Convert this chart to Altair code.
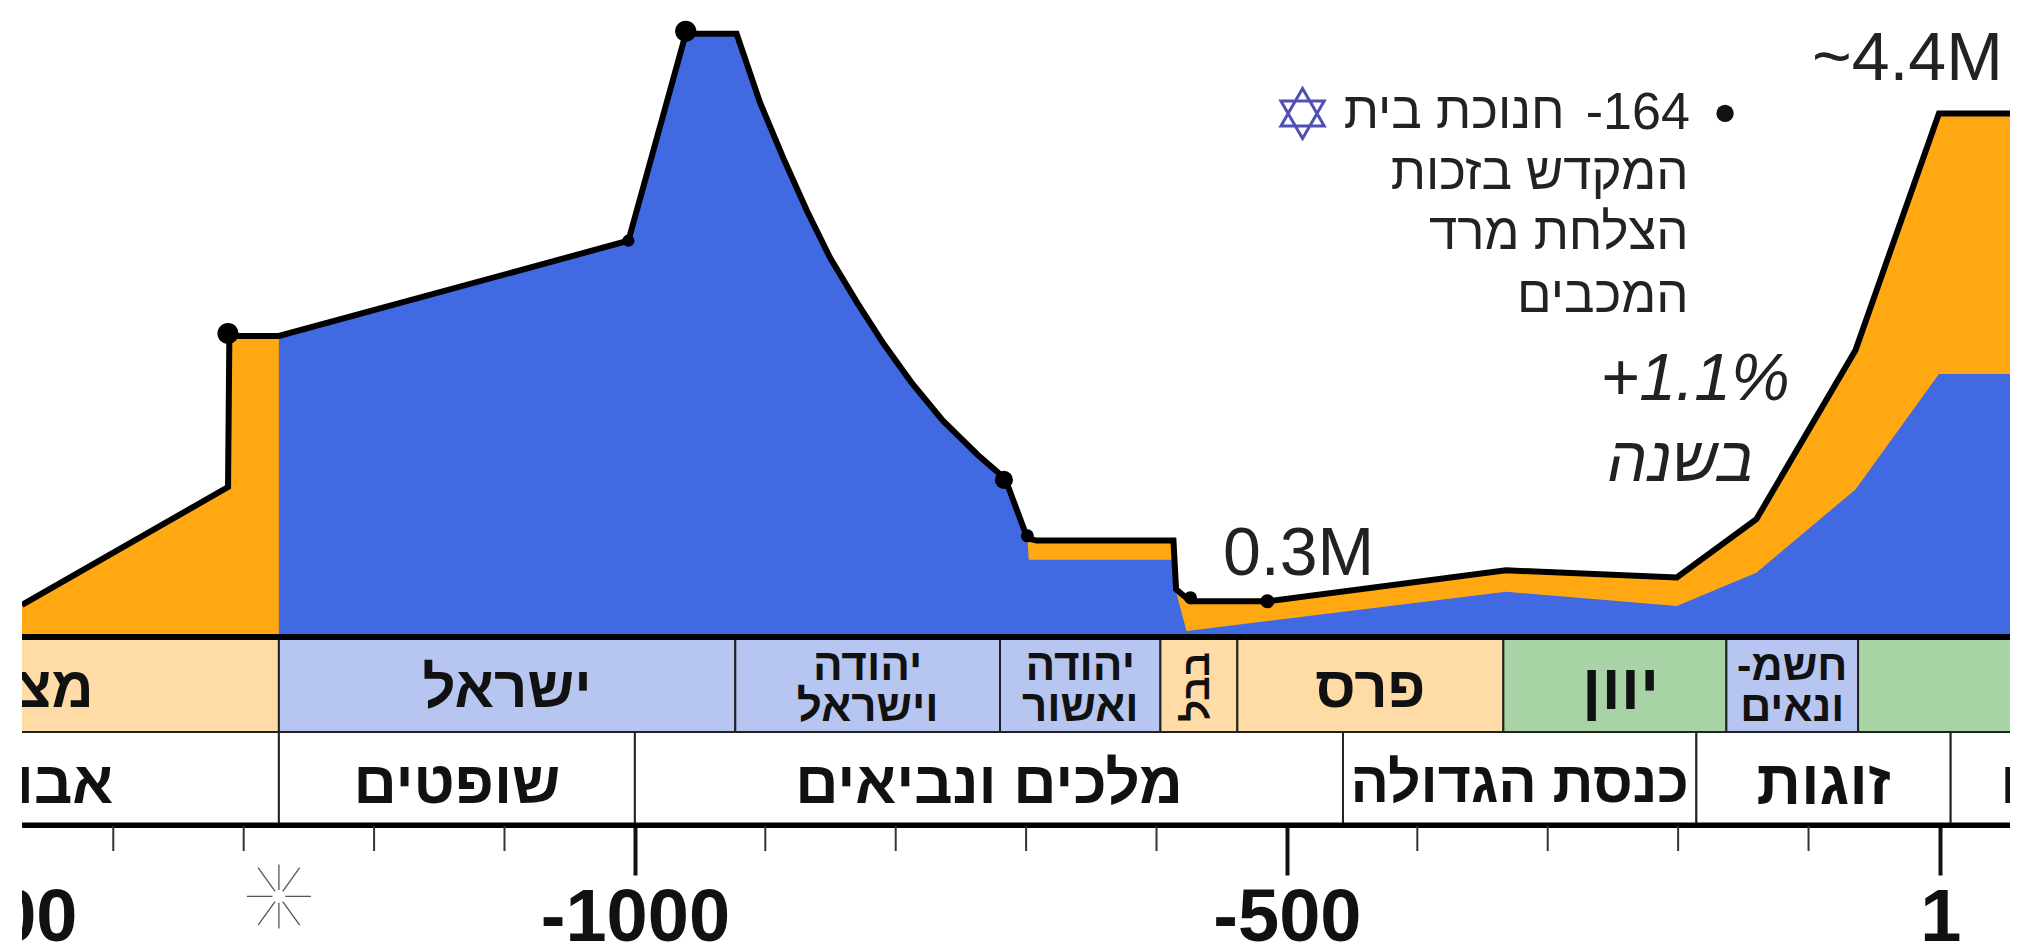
import altair as alt
import pandas as pd

FONT = "Liberation Sans"
ORANGE, BLUE = "#FFA812", "#4169E1"
LO, LB, LG = "#FFDCA6", "#B7C6F0", "#A8D3A5"

# population outline (year, millions)
out_year = [-1470,-1312,-1311,-1273,-1005,-961,-922,-904,-886,-868,-850,-829,-809,-788,-764,-737,-716,-699,-692,-587,-585,-574,-515,-332,-201,-140,-64,0,61]
out_pop  = [0.27,1.26,2.53,2.53,3.33,5.07,5.07,4.49,4.02,3.58,3.18,2.80,2.46,2.14,1.82,1.53,1.33,0.83,0.81,0.81,0.40,0.30,0.30,0.56,0.50,0.99,2.41,4.40,4.40]
# blue (inside the land) part
blue_year = [-1273,-1005,-961,-922,-904,-886,-868,-850,-829,-809,-788,-764,-737,-716,-699,-698,-587,-585,-577,-332,-201,-140,-64,0,61]
blue_pop  = [2.53,3.33,5.07,5.07,4.49,4.02,3.58,3.18,2.80,2.46,2.14,1.82,1.53,1.33,0.83,0.65,0.65,0.38,0.05,0.38,0.26,0.54,1.24,2.21,2.21]
# dots on the outline
dot_year = [-1312,-1005,-961,-717,-699,-574,-515]
dot_pop  = [2.55,3.33,5.09,1.32,0.85,0.33,0.30]
dot_size = [450,150,450,330,170,170,200]

# rows under the chart
r1_start = [-1500,-1273,-923,-720,-597,-538,-334,-163,-62]
r1_end   = [-1273,-923,-720,-597,-538,-334,-163,-62,100]
r1_fill  = [LO,LB,LB,LB,LO,LO,LG,LB,LG]
r1_label = ["", "ישראל", "", "", "", "פרס", "יוון", "", ""]
r1_mid   = [0, -1098, -821.5, -658.5, 0, -436, -244, -112.5, 0]
r1_size  = [58,58,44,44,38,58,64,43,38]
r1_two   = ["", "", "יהודה\nוישראל", "יהודה\nואשור", "", "", "", "\u200fחשמ-\u200f\nונאים", ""]
r2_start = [-1500,-1273,-1000,-457,-186,9]
r2_end   = [-1273,-1000,-457,-186,9,100]
r2_label = ["", "שופטים", "מלכים ונביאים", "כנסת הגדולה", "זוגות", ""]
r2_size  = [60,60,60,57,62,60]

major_ticks = [-1000,-500,1]
minor_ticks = [-1400,-1300,-1200,-1100,-900,-800,-700,-600,-400,-300,-200,-100]

# annotations (text, year, millions, size, align, style)
notes = [
    ("~4.4M", 49, 4.85, 68, "right", "normal"),
    ("0.3M", -491, 0.69, 68, "center", "normal"),
    ("+1.1%", -187, 2.16, 66, "center", "italic"),
    ("בשנה", -198, 1.47, 63, "center", "italic"),
    ("-164", -191, 4.40, 52, "right", "normal"),
    ("חנוכת בית", -287, 4.40, 51, "right", "normal"),
    ("המקדש בזכות", -192, 3.89, 51, "right", "normal"),
    ("הצלחת מרד", -192, 3.39, 51, "right", "normal"),
    ("המכבים", -192, 2.86, 51, "right", "normal"),
]

W, H = 1988, 817
BOTTOM = 122
X = alt.X("x:Q", title=None, scale=alt.Scale(domain=[-1470, 54.5], nice=False, zero=False),
          axis=alt.Axis(values=major_ticks, title=None, grid=False, tickSize=50, tickWidth=4,
                        tickColor="#111", domainColor="#000", domainWidth=5,
                        labelFont=FONT, labelFontSize=74, labelFontWeight="bold", labelColor="#111",
                        labelPadding=7, labelLimit=500, labelOverlap=False, labelFlush=False, labelBound=False,
                        labelExpr="toString(datum.value)"))
Y = alt.Y("y:Q", scale=alt.Scale(domain=[-1.58, 5.286], nice=False, zero=False), axis=None)
NX = alt.X("x:Q", title=None)
MX = alt.X("m:Q", title=None)
NY = alt.Y("y:Q", axis=None)
SZ = alt.Size("s:Q", scale=None, legend=None)

def py(full):            # page row -> plot pixel
    return full - 8

out_df = pd.DataFrame({"x": out_year, "y": out_pop})
blue_df = pd.DataFrame({"x": blue_year, "y": blue_pop})
dot_df = pd.DataFrame({"x": dot_year, "y": dot_pop, "s": dot_size})

orange_area = alt.Chart(out_df).mark_area(color=ORANGE).encode(x=X, y=Y, y2=alt.datum(0))
blue_area = alt.Chart(blue_df).mark_area(color=BLUE).encode(x=NX, y=NY, y2=alt.datum(0))
outline = alt.Chart(out_df).mark_line(color="#000", strokeWidth=6).encode(x=NX, y=NY)
dots = alt.Chart(dot_df).mark_point(filled=True, color="#000", opacity=1).encode(x=NX, y=NY, size=SZ)

# row 1
r1 = pd.DataFrame({"x": r1_start, "x2": r1_end, "fill": r1_fill, "t": r1_label, "t2": r1_two, "s": r1_size, "m": r1_mid})
row1 = alt.Chart(r1).mark_rect(stroke="#222", strokeWidth=2).encode(
    x=NX, x2="x2:Q", y=alt.value(py(638)), y2=alt.value(py(732)),
    fill=alt.Fill("fill:N", scale=None))
row1_text = alt.Chart(r1[r1.t != ""]).mark_text(font=FONT, fontWeight="bold", color="#111", baseline="middle",
                                                align="center").encode(
    x=MX, y=alt.value(py(690)), text="t:N", size=SZ)
row1_two = alt.Chart(r1[r1.t2 != ""]).mark_text(font=FONT, fontWeight="bold", color="#111", baseline="middle",
                                                align="center", lineBreak="\n", lineHeight=41).encode(
    x=MX, y=alt.value(py(667)), text="t2:N", size=SZ)
mitz = alt.Chart(pd.DataFrame({"x": [-1415], "t": ["מצרים"]})).mark_text(
    font=FONT, fontWeight="bold", fontSize=58, color="#111", align="right", baseline="middle").encode(
    x=NX, y=alt.value(py(690)), text="t:N")
bavel = alt.Chart(pd.DataFrame({"x": [-568], "t": ["בבל"]})).mark_text(
    font=FONT, fontWeight="bold", fontSize=38, color="#111", align="center", baseline="middle", angle=270).encode(
    x=NX, y=alt.value(py(687)), text="t:N")

# row 2
r2 = pd.DataFrame({"x": r2_start, "x2": r2_end, "t": r2_label, "s": r2_size})
r2["m"] = (r2.x + r2.x2) / 2
row2 = alt.Chart(r2).mark_rect(fill="#fff", stroke="#222", strokeWidth=2).encode(
    x=NX, x2="x2:Q", y=alt.value(py(732)), y2=alt.value(py(825)))
row2_text = alt.Chart(r2[r2.t != ""]).mark_text(font=FONT, fontWeight="bold", color="#111",
                                                baseline="middle", align="center").encode(
    x=MX, y=alt.value(py(785)), text="t:N", size=SZ)
avot = alt.Chart(pd.DataFrame({"x": [-1400], "t": ["אבות"]})).mark_text(
    font=FONT, fontWeight="bold", fontSize=60, color="#111", align="right", baseline="middle").encode(
    x=NX, y=alt.value(py(785)), text="t:N")
tanaim = alt.Chart(pd.DataFrame({"x": [47], "t": ["תנאים"]})).mark_text(
    font=FONT, fontWeight="bold", fontSize=60, color="#111", align="left", baseline="middle").encode(
    x=NX, y=alt.value(py(785)), text="t:N")

# heavy rules
heavy = pd.DataFrame({"x": [-1500], "x2": [100]})
rule_top = alt.Chart(heavy).mark_rule(color="#000", strokeWidth=6).encode(x=NX, x2="x2:Q", y=alt.value(py(637)))
rule_bot = alt.Chart(heavy).mark_rule(color="#000", strokeWidth=5).encode(x=NX, x2="x2:Q", y=alt.value(py(825)))
ticks = alt.Chart(pd.DataFrame({"x": minor_ticks})).mark_rule(color="#333", strokeWidth=2).encode(
    x=NX, y=alt.value(py(826)), y2=alt.value(py(851)))
# the -1500 label lies off the left edge and only its tail shows
label_1500 = alt.Chart(pd.DataFrame({"x": [-1500], "t": ["-1500"]})).mark_text(
    font=FONT, fontWeight="bold", fontSize=74, color="#111", align="center", baseline="middle").encode(
    x=NX, y=alt.value(py(919)), text="t:N")

# annotations
ndf = pd.DataFrame(notes, columns=["t", "x", "y", "s", "a", "st"])
def note_layer(frame, **kw):
    return alt.Chart(frame).mark_text(font=FONT, color="#222", baseline="middle", **kw).encode(
        x=NX, y=NY, text="t:N", size=SZ)
note_layers = [
    note_layer(ndf[(ndf.st == "normal") & (ndf.a == "right")], align="right"),
    note_layer(ndf[(ndf.st == "normal") & (ndf.a == "center")], align="center"),
    note_layer(ndf[ndf.st == "italic"], align="center", fontStyle="italic"),
]
bullet = alt.Chart(pd.DataFrame({"x": [-164], "y": [4.40]})).mark_point(filled=True, color="#111", size=300, opacity=1).encode(x=NX, y=NY)
HEX = "M0,-1L0.866,0.5L-0.866,0.5Z M0,1L0.866,-0.5L-0.866,-0.5Z"
star = alt.Chart(pd.DataFrame({"x": [-488], "y": [4.40]})).mark_point(
    shape=HEX, filled=False, stroke="#5050B4", strokeWidth=3, size=2500, opacity=1).encode(x=NX, y=NY)
AST = ("M0,-1L0,-0.2M0,1L0,0.2M-1,0L-0.2,0M1,0L0.2,0"
       "M-0.65,-0.9L-0.12,-0.16M0.65,-0.9L0.12,-0.16M-0.65,0.9L-0.12,0.16M0.65,0.9L0.12,0.16")
asterisk = alt.Chart(pd.DataFrame({"x": [-1273], "y": [-2.18]})).mark_point(
    shape=AST, filled=False, stroke="#555", strokeWidth=1.3, size=4096, opacity=1).encode(x=NX, y=NY)

# white margin left of the picture
mask = alt.Chart(pd.DataFrame({"x": [0]})).mark_rect(fill="#fff").encode(
    x=alt.value(-14), x2=alt.value(0), y=alt.value(0), y2=alt.value(H + BOTTOM))

chart = alt.layer(
    orange_area, blue_area, outline, dots, row1, row1_text, row1_two, mitz, bavel, row2, row2_text, avot, tanaim,
    rule_top, rule_bot, ticks, label_1500, *note_layers, bullet, star, asterisk, mask
).properties(
    width=W, height=H, padding={"left": 14, "top": 0, "right": 0, "bottom": BOTTOM},
    autosize=alt.AutoSizeParams(type="none"), background="#ffffff",
).configure_view(stroke=None)

chart.save("out.html", embed_options={"renderer": "svg", "actions": False})
